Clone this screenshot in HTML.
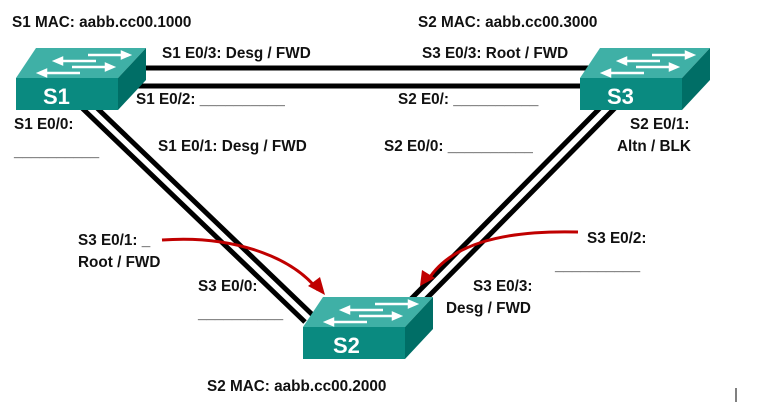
<!DOCTYPE html>
<html><head><style>
body{margin:0;background:#fff;width:775px;height:404px;overflow:hidden}
svg text{font-family:"Liberation Sans",sans-serif;font-weight:bold;font-size:15.3px;fill:#111}
</style></head><body>
<svg width="775" height="404" xmlns="http://www.w3.org/2000/svg">
<defs>
<g id="sw">
<polygon points="0,30 20,0 130,0 102,30" fill="#3fb0a6"/>
<polygon points="102,30 130,0 130,32 102,62" fill="#006e66"/>
<rect x="0" y="30" width="102" height="32" fill="#0a8a80"/>
<g stroke="#fff" stroke-width="2.5" fill="#fff">
<line x1="72" y1="7" x2="110" y2="7"/><polygon points="113,7 106,4 106,10"/>
<line x1="42" y1="13" x2="80" y2="13"/><polygon points="39,13 46,10 46,16"/>
<line x1="56" y1="19" x2="94" y2="19"/><polygon points="97,19 90,16 90,22"/>
<line x1="26" y1="25" x2="64" y2="25"/><polygon points="23,25 30,22 30,28"/>
</g>
</g>
</defs>
<g stroke="#000" stroke-width="5">
<line x1="140" y1="68" x2="600" y2="68"/>
<line x1="120" y1="86" x2="590" y2="86"/>
<line x1="82" y1="108" x2="305" y2="322"/>
<line x1="97" y1="108" x2="320" y2="322"/>
<line x1="600" y1="108" x2="410" y2="300"/>
<line x1="615" y1="108" x2="425" y2="300"/>
</g>
<use href="#sw" x="16" y="48"/>
<use href="#sw" x="580" y="48"/>
<use href="#sw" x="303" y="297"/>
<text x="43" y="104" style="font-size:22px;fill:#fff">S1</text>
<text x="607" y="104" style="font-size:22px;fill:#fff">S3</text>
<text x="333" y="353" style="font-size:22px;fill:#fff">S2</text>
<g fill="none" stroke="#c00000" stroke-width="3">
<path d="M162,240 C230,235 290,255 318,290"/>
<path d="M578,232 C500,230 450,245 428,280"/>
</g>
<polygon points="325,295 308,286 320,277" fill="#c00000"/>
<polygon points="420,286 422,270 435,278" fill="#c00000"/>
<text x="12" y="27">S1 MAC: aabb.cc00.1000</text>
<text x="418" y="27">S2 MAC: aabb.cc00.3000</text>
<text x="162" y="58">S1 E0/3: Desg / FWD</text>
<text x="422" y="58">S3 E0/3: Root / FWD</text>
<text x="136" y="104">S1 E0/2: __________</text>
<text x="398" y="104">S2 E0/: __________</text>
<text x="14" y="129">S1 E0/0:</text>
<text x="14" y="156">__________</text>
<text x="158" y="151">S1 E0/1: Desg / FWD</text>
<text x="384" y="151">S2 E0/0: __________</text>
<text x="630" y="129">S2 E0/1:</text>
<text x="617" y="151">Altn / BLK</text>
<text x="78" y="245">S3 E0/1: _</text>
<text x="78" y="267">Root / FWD</text>
<text x="587" y="243">S3 E0/2:</text>
<text x="555" y="270">__________</text>
<text x="198" y="291">S3 E0/0:</text>
<text x="198" y="318">__________</text>
<text x="473" y="291">S3 E0/3:</text>
<text x="446" y="313">Desg / FWD</text>
<text x="207" y="391">S2 MAC: aabb.cc00.2000</text>
<line x1="736" y1="388" x2="736" y2="402" stroke="#000" stroke-width="1"/>
</svg>
</body></html>
